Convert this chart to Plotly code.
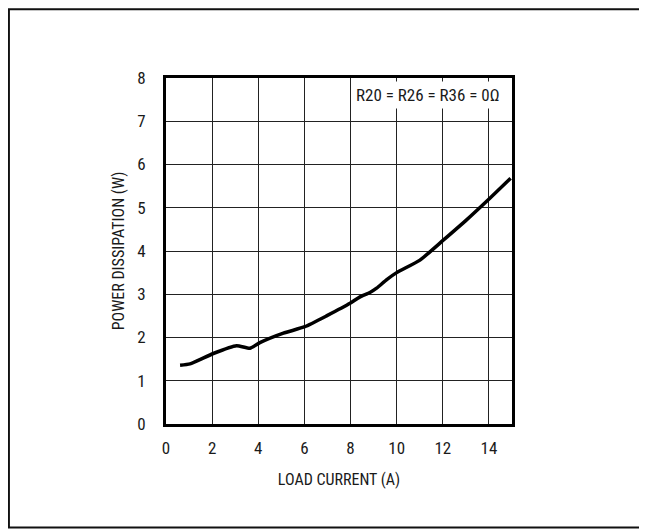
"""Power dissipation vs load current, redrawn with Plotly."""

import plotly.graph_objects as go

load_current = [0.61, 1.04, 2.05, 3.06, 3.64, 4.07, 5.09, 6.02, 6.96, 7.98,
                8.41, 8.84, 9.13, 9.57, 10.0, 11.01, 12.02, 13.03, 14.04, 14.94]
power_w = [1.36, 1.39, 1.63, 1.81, 1.75, 1.88, 2.10, 2.25, 2.50, 2.79,
           2.94, 3.04, 3.14, 3.34, 3.50, 3.79, 4.25, 4.72, 5.22, 5.68]

x_ticks = [0, 2, 4, 6, 8, 10, 12, 14]
y_ticks = [0, 1, 2, 3, 4, 5, 6, 7, 8]

FONT = "Roboto Condensed, Roboto, sans-serif"

fig = go.Figure(
    go.Scatter(
        x=load_current,
        y=power_w,
        mode="lines",
        line={"color": "#000000", "width": 3.5, "shape": "spline", "smoothing": 0.5},
        showlegend=False,
    )
)

axis_common = dict(
    showgrid=True,
    gridcolor="#222222",
    gridwidth=1,
    showline=True,
    linecolor="#000000",
    linewidth=3,
    mirror=True,
    zeroline=False,
    ticks="",
    tickfont={"size": 17, "color": "#1a1a1a"},
    title_font={"size": 16, "color": "#1a1a1a"},
)

fig.update_xaxes(
    range=[0, 15],
    tickvals=x_ticks,
    ticklabelstandoff=7,
    title_text="LOAD CURRENT (A)",
    title_standoff=17,
    **axis_common,
)
fig.update_yaxes(
    range=[0, 8],
    tickvals=y_ticks,
    ticklabelstandoff=14,
    title_text="POWER DISSIPATION (W)",
    title_standoff=9,
    **axis_common,
)

fig.add_annotation(
    text="R20 = R26 = R36 = 0Ω",
    xref="paper",
    yref="paper",
    x=0.976,
    y=0.951,
    xanchor="right",
    yanchor="middle",
    showarrow=False,
    bgcolor="#ffffff",
    borderpad=3,
    font={"size": 17, "color": "#1a1a1a", "family": FONT},
)

# outer frame around the whole figure
fig.add_shape(
    type="rect",
    xref="paper",
    yref="paper",
    x0=-0.454,
    x1=1.387,
    y0=-0.299,
    y1=1.199,
    line={"color": "#111111", "width": 2},
)

fig.update_layout(
    width=647,
    height=529,
    margin={"l": 158, "r": 143, "t": 70, "b": 113},
    paper_bgcolor="#ffffff",
    plot_bgcolor="#ffffff",
    font={"family": FONT, "color": "#1a1a1a"},
)

fig.write_html("out.html")
